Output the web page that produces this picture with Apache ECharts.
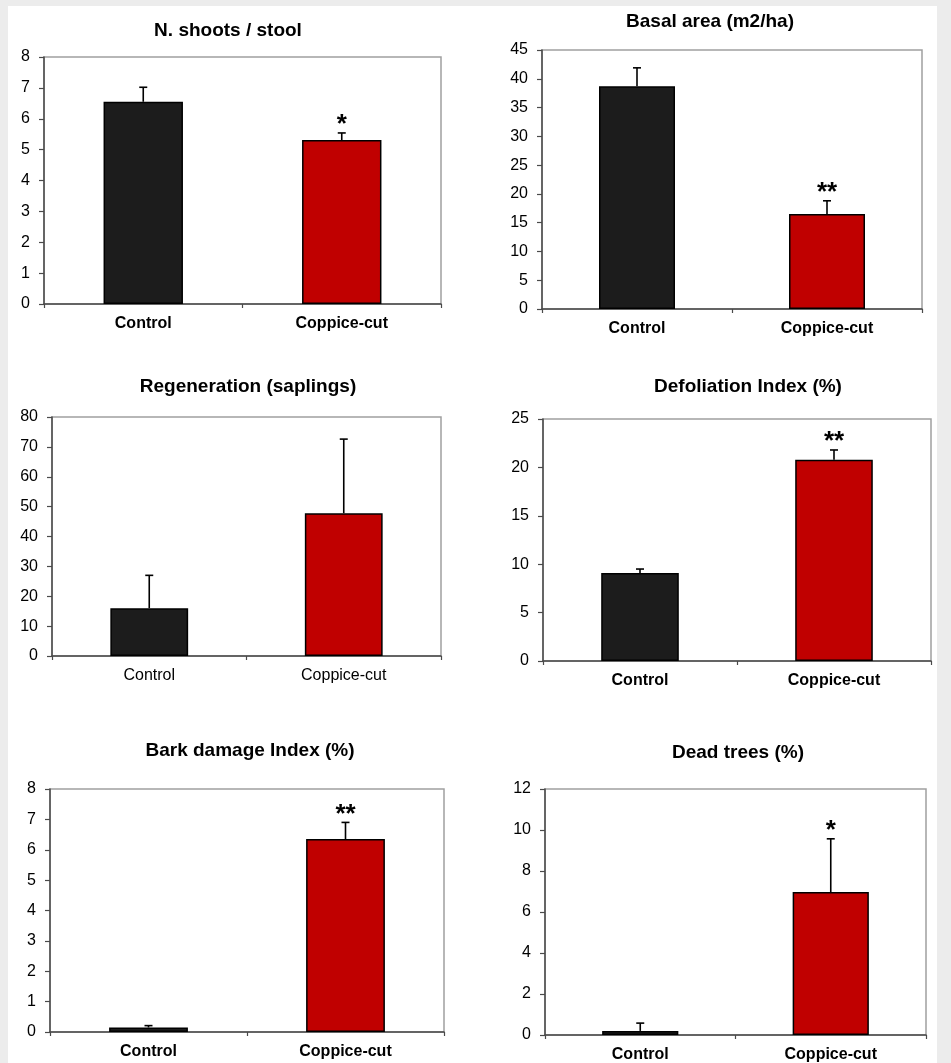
<!DOCTYPE html>
<html>
<head>
<meta charset="utf-8">
<script src="https://cdn.jsdelivr.net/npm/echarts@6/dist/echarts.min.js"></script>
<style>
  html, body { margin: 0; padding: 0; background: #ececec; }
  #paper { position: absolute; left: 8px; top: 6px; width: 929px; height: 1057px; background: #ffffff; }
  #chart { position: absolute; left: 0; top: 0; width: 951px; height: 1063px; }
</style>
</head>
<body>
<div id="paper"></div>
<div id="chart"></div>
<script>
// ---- data ----
const categories = ['Control', 'Coppice-cut'];
const titles = ['N. shoots / stool', 'Basal area (m2/ha)', 'Regeneration (saplings)',
                'Defoliation Index (%)', 'Bark damage Index (%)', 'Dead trees (%)'];

const shootsMean = [6.55, 5.31];
const shootsErr  = [0.47, 0.23];
const shootsSig  = ['', '*'];

const basalMean = [38.7, 16.5];
const basalErr  = [3.2, 2.3];
const basalSig  = ['', '**'];

const regenMean = [16.0, 47.8];
const regenErr  = [11.0, 24.8];
const regenSig  = ['', ''];

const defolMean = [9.1, 20.8];
const defolErr  = [0.4, 1.0];
const defolSig  = ['', '**'];

const barkMean = [0.15, 6.35];
const barkErr  = [0.06, 0.55];
const barkSig  = ['', '**'];

const deadMean = [0.2, 6.97];
const deadErr  = [0.38, 2.6];
const deadSig  = ['', '*'];

const yMax      = [8, 45, 80, 25, 8, 12];
const yInterval = [1, 5, 10, 5, 1, 2];

// ---- layout / style ----
const panels = [
  { mean: shootsMean, err: shootsErr, sig: shootsSig, grid: { left: 44,  top: 57,  width: 397, height: 247 }, title: [223, 27],  boldCat: true },
  { mean: basalMean,  err: basalErr,  sig: basalSig,  grid: { left: 542, top: 50,  width: 380, height: 259 }, title: [705, 18],  boldCat: true },
  { mean: regenMean,  err: regenErr,  sig: regenSig,  grid: { left: 52,  top: 417, width: 389, height: 239 }, title: [243, 383], boldCat: false },
  { mean: defolMean,  err: defolErr,  sig: defolSig,  grid: { left: 543, top: 419, width: 388, height: 242 }, title: [743, 383], boldCat: true },
  { mean: barkMean,   err: barkErr,   sig: barkSig,   grid: { left: 50,  top: 789, width: 394, height: 243 }, title: [245, 747], boldCat: true },
  { mean: deadMean,   err: deadErr,   sig: deadSig,   grid: { left: 545, top: 789, width: 381, height: 246 }, title: [733, 749], boldCat: true }
];
const barColors = ['#1c1c1c', '#c00000'];
const FONT = 'Liberation Sans, Arial, sans-serif';

const option = {
  animation: false,
  title: [], grid: [], xAxis: [], yAxis: [], series: []
};

panels.forEach((p, k) => {
  option.title.push({
    text: titles[k],
    left: p.title[0], top: p.title[1] - 11, textAlign: 'center',
    textStyle: { fontFamily: FONT, fontSize: 19, fontWeight: 'bold', color: '#000' }
  });
  option.grid.push(Object.assign({ show: true, borderColor: '#a0a0a0', borderWidth: 1.5, backgroundColor: '#fff', containLabel: false }, p.grid));
  option.xAxis.push({
    type: 'category', gridIndex: k, data: categories,
    axisLine: { show: true, lineStyle: { color: '#4a4a4a', width: 1.5 } },
    axisTick: { show: true, alignWithLabel: false, length: 4, lineStyle: { color: '#4a4a4a', width: 1.2 } },
    axisLabel: { margin: 12, fontFamily: FONT, fontSize: 16, fontWeight: p.boldCat ? 'bold' : 'normal', color: '#000' },
    splitLine: { show: false }
  });
  option.yAxis.push({
    type: 'value', gridIndex: k, min: 0, max: yMax[k], interval: yInterval[k],
    axisLine: { show: true, lineStyle: { color: '#4a4a4a', width: 1.5 } },
    axisTick: { show: true, length: 5, lineStyle: { color: '#4a4a4a', width: 1.2 } },
    axisLabel: { margin: 14, fontFamily: FONT, fontSize: 16, color: '#000' },
    splitLine: { show: false }
  });
  option.series.push({
    type: 'bar', xAxisIndex: k, yAxisIndex: k, barWidth: '40%',
    data: p.mean.map((v, i) => ({ value: v, itemStyle: { color: barColors[i] } })),
    itemStyle: { borderColor: '#000', borderWidth: 1.5 },
    z: 2
  });
  option.series.push({
    type: 'custom', xAxisIndex: k, yAxisIndex: k, z: 3,
    data: p.mean.map((v, i) => [i, v, p.err[i]]),
    renderItem: function (params, api) {
      const x = api.value(0), m = api.value(1), e = api.value(2);
      const base = api.coord([x, m]);
      const top = api.coord([x, m + e]);
      const sig = p.sig[params.dataIndex];
      const children = [
        { type: 'line', shape: { x1: base[0], y1: base[1], x2: top[0], y2: top[1] }, style: { stroke: '#000', lineWidth: 1.6 } },
        { type: 'line', shape: { x1: top[0] - 4, y1: top[1], x2: top[0] + 4, y2: top[1] }, style: { stroke: '#000', lineWidth: 1.6 } }
      ];
      if (sig) {
        children.push({
          type: 'text',
          style: { text: sig, x: top[0], y: top[1] - 8, textAlign: 'center', textVerticalAlign: 'middle',
                   font: 'bold 26px ' + FONT, fill: '#000' }
        });
      }
      return { type: 'group', children: children };
    }
  });
});

const chart = echarts.init(document.getElementById('chart'), null, { renderer: 'canvas' });
chart.setOption(option);
</script>
</body>
</html>
